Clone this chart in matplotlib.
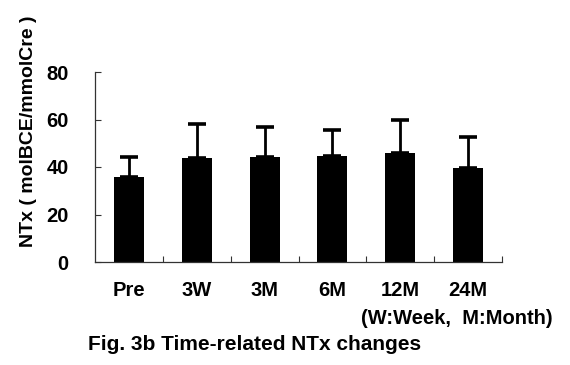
import matplotlib
matplotlib.use("Agg")
import matplotlib.pyplot as plt
import numpy as np

categories = ["Pre", "3W", "3M", "6M", "12M", "24M"]
means = [36.0, 44.0, 44.4, 44.7, 46.1, 39.4]
sd = [8.4, 14.2, 12.6, 11.0, 13.6, 13.2]
yticks = [0, 20, 40, 60, 80]

plt.rcParams['font.family'] = ['Liberation Sans', 'DejaVu Sans']

fig = plt.figure(figsize=(5.7, 3.65), dpi=100)
ax = fig.add_axes([95/570, 103/365, 407/570, 190/365])

x = np.arange(len(categories))
ax.bar(x, means, width=0.44, color='black', zorder=2)
ax.errorbar(x, means, yerr=[np.zeros(len(sd)), sd], fmt='none', ecolor='black',
            elinewidth=2.0, capsize=6.5, capthick=2.6, zorder=3)

ax.set_xlim(-0.5, len(categories) - 0.5)
ax.set_ylim(0, 80)
ax.set_yticks(yticks)
ax.set_yticklabels([str(v) for v in yticks], fontsize=14.5, fontweight='bold')
ax.set_xticks(x)
ax.set_xticklabels(categories, fontsize=14.5, fontweight='bold')
ax.set_xticks(np.arange(len(categories)) + 0.5, minor=True)
ax.tick_params(axis='x', which='major', length=0, pad=14)
ax.tick_params(axis='x', which='minor', direction='in', length=4, width=0.8, color='#333333')
ax.tick_params(axis='y', direction='in', length=4, width=0.8, color='#333333', pad=19)
for s in ['top', 'right']:
    ax.spines[s].set_visible(False)
for s in ['left', 'bottom']:
    ax.spines[s].set_linewidth(0.9)
    ax.spines[s].set_color('#333333')

fig.text(29/570, 1 - 131/365, "NTx ( molBCE/mmolCre )", rotation=90, ha='center', va='center',
         fontsize=14, fontweight='bold')
fig.text(553/570, 1 - 318/365, "(W:Week,  M:Month)", ha='right', va='center',
         fontsize=14.5, fontweight='bold')
fig.text(88/570, 1 - 344/365, "Fig. 3b Time-related NTx changes", ha='left', va='center',
         fontsize=15, fontweight='bold')

fig.savefig("out.png", dpi=100)
